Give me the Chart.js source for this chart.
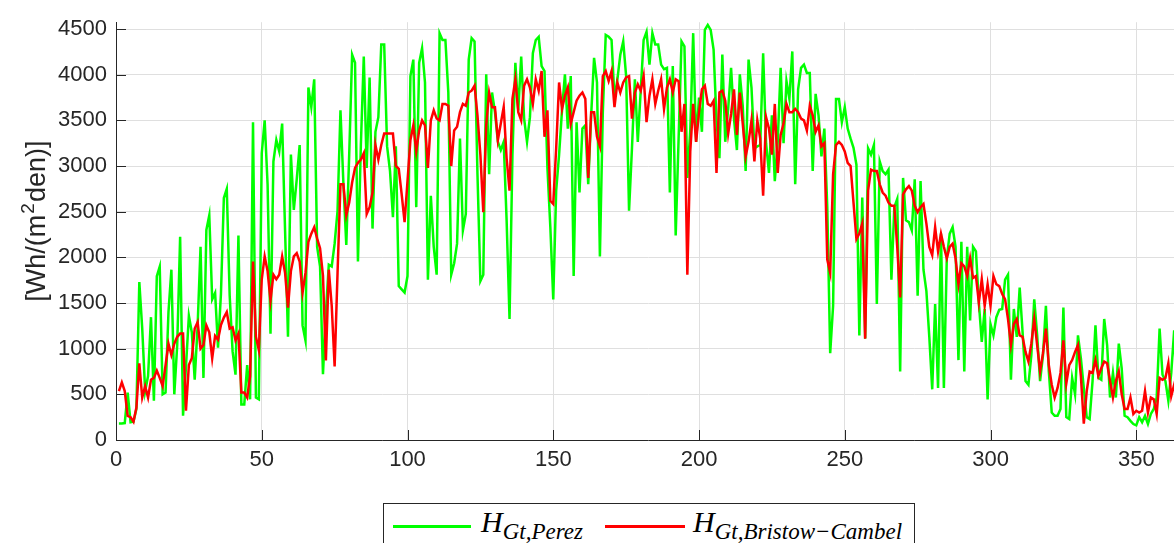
<!DOCTYPE html>
<html>
<head>
<meta charset="utf-8">
<script src="https://cdn.jsdelivr.net/npm/chart.js@4.4.1/dist/chart.umd.min.js"></script>
<style>
  html, body { margin: 0; padding: 0; background: #fff; overflow: hidden; width: 1174px; height: 543px; }
  #wrap { position: relative; width: 1174px; height: 543px; overflow: hidden; }
  #plot { position: absolute; left: 0; top: 0; width: 1180px; height: 543px; }
  #legend { position: absolute; left: 383px; top: 503px; width: 532px; height: 60px;
            border: 1px solid #262626; background: #fff; box-sizing: border-box; }
  .swatch { position: absolute; height: 3px; top: 21px; }
  .lab { position: absolute; top: 3px; font-family: "Liberation Serif", "DejaVu Serif", serif;
         font-style: italic; font-size: 30px; line-height: 30px; color: #000; white-space: nowrap; }
  .lab sub { font-size: 23px; vertical-align: -0.3em; line-height: 0; }
</style>
</head>
<body>
<div id="wrap">
  <div id="plot"><canvas id="c"></canvas></div>
  <div id="legend">
    <div class="swatch" style="left:9px; width:78px; background:#00ff00;"></div>
    <div class="lab" style="left:97px;">H<sub>Gt,Perez</sub></div>
    <div class="swatch" style="left:221px; width:80px; background:#ff0000;"></div>
    <div class="lab" style="left:309px;">H<sub>Gt,Bristow−Cambel</sub></div>
  </div>
</div>
<script>
// Day of year (x axis)
const days = Array.from({ length: 365 }, (_, i) => i + 1);

// Daily irradiation on the tilted plane, Perez model [Wh/(m2 day)]
const perez = [
  180,180,185,520,195,200,340,1730,1220,535,
  700,1345,430,1795,1900,500,520,1400,1865,500,
  1040,2225,265,800,1360,1180,660,1250,2115,680,
  2300,2460,1540,1610,1010,1600,2650,2750,1580,970,
  715,2240,390,390,820,445,3480,465,445,3140,
  3500,2800,1165,3050,3285,3160,3465,2295,1130,3125,
  2520,2855,3230,1255,1090,3860,3645,3950,2115,1900,
  720,1400,1920,1900,2150,2510,3610,2820,2135,3125,
  4220,4130,1955,3230,4200,2980,3970,2315,3375,3535,
  4330,4330,3215,2945,2440,3215,1685,1650,1615,1795,
  3985,4165,2550,4130,4290,3915,1755,2675,2115,1810,
  4455,4380,4380,3805,1810,1935,2150,3300,2295,2475,
  4165,4400,4365,2910,1740,1810,4005,2910,3805,3590,
  3265,3175,3265,2405,1325,3125,4130,3610,4200,3520,
  3265,3535,4235,4380,4415,4095,4040,2980,2330,1540,
  2730,3125,3610,4005,3410,3985,1795,3480,2710,3410,
  3445,2800,3555,4185,3915,2010,3590,4435,4415,4380,
  3735,3950,4220,4365,3985,2510,3195,3950,3265,3825,
  4380,4470,4110,4455,4330,4330,4110,4060,4075,2710,
  4095,2240,3300,4365,4310,2870,3390,4455,3265,3750,
  3375,4490,4545,4490,4275,3500,3085,4220,3265,3625,
  4075,3520,3175,4005,3660,2945,4165,3860,3195,3215,
  3230,4235,3250,2925,3555,2835,3265,4075,3250,3930,
  3735,4255,2800,3840,4075,4110,4020,4020,2945,3790,
  3555,3105,3410,2550,950,1470,3735,3735,3480,3645,
  3410,3300,3200,3015,1145,2655,1110,3195,3125,3230,
  1490,3050,2945,2910,2960,1755,2550,2640,750,2870,
  2405,2385,2295,2855,1580,2835,1865,1630,1130,555,
  1490,570,2260,570,1990,2260,2330,2115,875,2170,
  750,2115,1310,2115,2065,1500,1075,1435,445,1270,
  1145,1345,1425,1435,1755,1810,660,1435,1130,1670,
  1180,645,605,930,1540,1145,645,930,1470,750,
  300,265,265,340,1450,250,230,680,500,1145,
  895,570,250,230,645,1255,680,660,1325,1040,
  465,735,465,1055,785,265,250,210,175,160,
  250,195,265,175,285,340,465,1220,715,645,
  430,735,1200,400,350
];

// Daily irradiation on the tilted plane, Bristow-Campbell model [Wh/(m2 day)]
const bristowCambel = [
  535,630,535,265,250,200,355,840,465,590,
  465,660,680,760,680,590,820,1055,930,1055,
  1130,1165,1165,320,820,895,1220,1290,1000,1040,
  1255,1180,895,1140,1100,1260,1340,1400,1220,1235,
  1090,1165,520,520,465,700,1955,1130,985,1760,
  2010,1850,1525,1810,1760,1810,2010,1830,1450,1850,
  2010,2045,1955,1615,1830,2170,2260,2330,2205,2100,
  1800,870,1865,1470,805,1830,2800,2800,2460,2600,
  2820,2980,3035,3070,3140,2475,2550,2710,3230,3070,
  3230,3355,3355,3355,3355,3000,2970,2690,2385,2835,
  3285,3445,3160,3390,3500,3445,2980,3500,3610,3520,
  3500,3680,3680,3660,3000,3390,3430,3590,3680,3660,
  3805,3825,3880,3555,3125,2495,3445,3805,3645,3645,
  3285,3465,3645,3085,2730,3735,3950,3590,3500,3880,
  3950,3860,3680,3950,3825,4040,3320,3610,2620,2585,
  3195,3915,3625,3770,3860,3465,3590,3715,3770,3805,
  3735,2870,3590,3590,3320,3215,3985,4040,3930,4040,
  3645,3915,3805,3915,3970,3985,3520,3805,3895,3825,
  3985,3480,3770,3950,3680,3825,3950,3625,3860,3950,
  3805,3950,3930,3375,3680,1810,3160,3680,3265,3590,
  3840,3880,3680,3660,3715,2925,3805,3825,3715,3355,
  3570,3840,3340,3805,3465,3105,3265,3500,3050,3500,
  3300,2675,3535,3410,3125,3680,2925,3340,3465,3680,
  3590,3590,3625,3590,3520,3500,3390,3660,3555,3375,
  3445,3215,3250,1975,1830,2910,3230,3265,3230,3160,
  3035,3000,2600,2200,2260,2370,1110,2730,2960,2945,
  2945,2800,2710,2675,2600,2565,2565,2115,1560,2690,
  2745,2780,2730,2565,2495,2550,2585,2370,2115,2025,
  2330,2065,2260,2115,1990,2115,2150,1990,1705,1935,
  1900,1795,1990,1775,1795,1505,1760,1470,1705,1470,
  1795,1705,1685,1600,1540,1325,1040,1270,1325,1145,
  1130,965,860,1055,1325,1040,750,950,1220,820,
  605,465,570,735,1090,620,820,875,965,1040,
  700,180,535,750,735,875,700,785,860,840,
  645,465,645,750,500,340,340,465,285,320,
  300,320,535,300,465,445,285,680,660,680,
  840,480,605,420,400
];

// Axis ticks
const xTicks = [0, 50, 100, 150, 200, 250, 300, 350];
const yTicks = [0, 500, 1000, 1500, 2000, 2500, 3000, 3500, 4000, 4500];

// Y axis title pieces: base text, superscript, base text
const yTitleParts = ['[Wh/(m', '2', 'den)]'];

const AXIS = '#262626';
const GRID = '#dfdfdf';
const SANS = '"Liberation Sans", Arial, sans-serif';

// Short tick marks pointing into the plot area
const innerTicks = {
  id: 'innerTicks',
  beforeDatasetsDraw(chart) {
    const { ctx, chartArea, scales: { x, y } } = chart;
    ctx.save();
    ctx.strokeStyle = AXIS;
    ctx.lineWidth = 1;
    ctx.beginPath();
    xTicks.forEach(v => {
      const px = Math.round(x.getPixelForValue(v)) + 0.5;
      ctx.moveTo(px, chartArea.bottom);
      ctx.lineTo(px, chartArea.bottom - 10);
    });
    yTicks.forEach(v => {
      const py = Math.round(y.getPixelForValue(v)) + 0.5;
      ctx.moveTo(chartArea.left, py);
      ctx.lineTo(chartArea.left + 10, py);
    });
    ctx.stroke();
    ctx.restore();
  }
};

// Rotated y axis title with a raised exponent
const yTitle = {
  id: 'yTitle',
  afterDraw(chart) {
    const { ctx, chartArea } = chart;
    const baseFont = '27px ' + SANS;
    const supFont = '19px ' + SANS;
    ctx.save();
    ctx.fillStyle = AXIS;
    ctx.textBaseline = 'alphabetic';
    ctx.font = baseFont;
    const w0 = ctx.measureText(yTitleParts[0]).width;
    const w2 = ctx.measureText(yTitleParts[2]).width;
    ctx.font = supFont;
    const w1 = ctx.measureText(yTitleParts[1]).width + 2;
    const total = w0 + w1 + w2;
    ctx.translate(45, (chartArea.top + chartArea.bottom) / 2 - 10);
    ctx.rotate(-Math.PI / 2);
    let px = -total / 2;
    ctx.font = baseFont;
    ctx.fillText(yTitleParts[0], px, 0);
    px += w0 + 1;
    ctx.font = supFont;
    ctx.fillText(yTitleParts[1], px, -11);
    px += w1 - 1;
    ctx.font = baseFont;
    ctx.fillText(yTitleParts[2], px, 0);
    ctx.restore();
  }
};

const tickFont = { family: SANS, size: 22 };

new Chart(document.getElementById('c'), {
  type: 'line',
  data: {
    datasets: [
      {
        label: 'H Gt,Perez',
        data: days.map((d, i) => ({ x: d, y: perez[i] })),
        borderColor: '#00ff00',
        borderWidth: 2.5,
        pointRadius: 0,
        tension: 0,
        order: 2
      },
      {
        label: 'H Gt,Bristow-Cambel',
        data: days.map((d, i) => ({ x: d, y: bristowCambel[i] })),
        borderColor: '#ff0000',
        borderWidth: 2.5,
        pointRadius: 0,
        tension: 0,
        order: 1
      }
    ]
  },
  options: {
    responsive: true,
    maintainAspectRatio: false,
    animation: false,
    layout: { padding: { top: 15, right: 0, bottom: 0, left: 0 } },
    plugins: { legend: { display: false }, tooltip: { enabled: false } },
    scales: {
      x: {
        type: 'linear',
        min: 0,
        max: 365,
        afterFit: s => { s.height = 103; },
        afterBuildTicks: s => { s.ticks = xTicks.map(v => ({ value: v })); },
        ticks: { font: tickFont, color: AXIS, padding: 7, maxRotation: 0, callback: v => String(v) },
        grid: { color: GRID, lineWidth: 1, drawTicks: false },
        border: { color: AXIS, width: 1 }
      },
      y: {
        min: 0,
        max: 4575,
        afterFit: s => { s.width = 116; },
        afterBuildTicks: s => { s.ticks = yTicks.map(v => ({ value: v })); },
        ticks: { font: tickFont, color: AXIS, padding: 9, callback: v => String(v) },
        grid: { color: GRID, lineWidth: 1, drawTicks: false },
        border: { color: AXIS, width: 1 }
      }
    }
  },
  plugins: [innerTicks, yTitle]
});
</script>
</body>
</html>
